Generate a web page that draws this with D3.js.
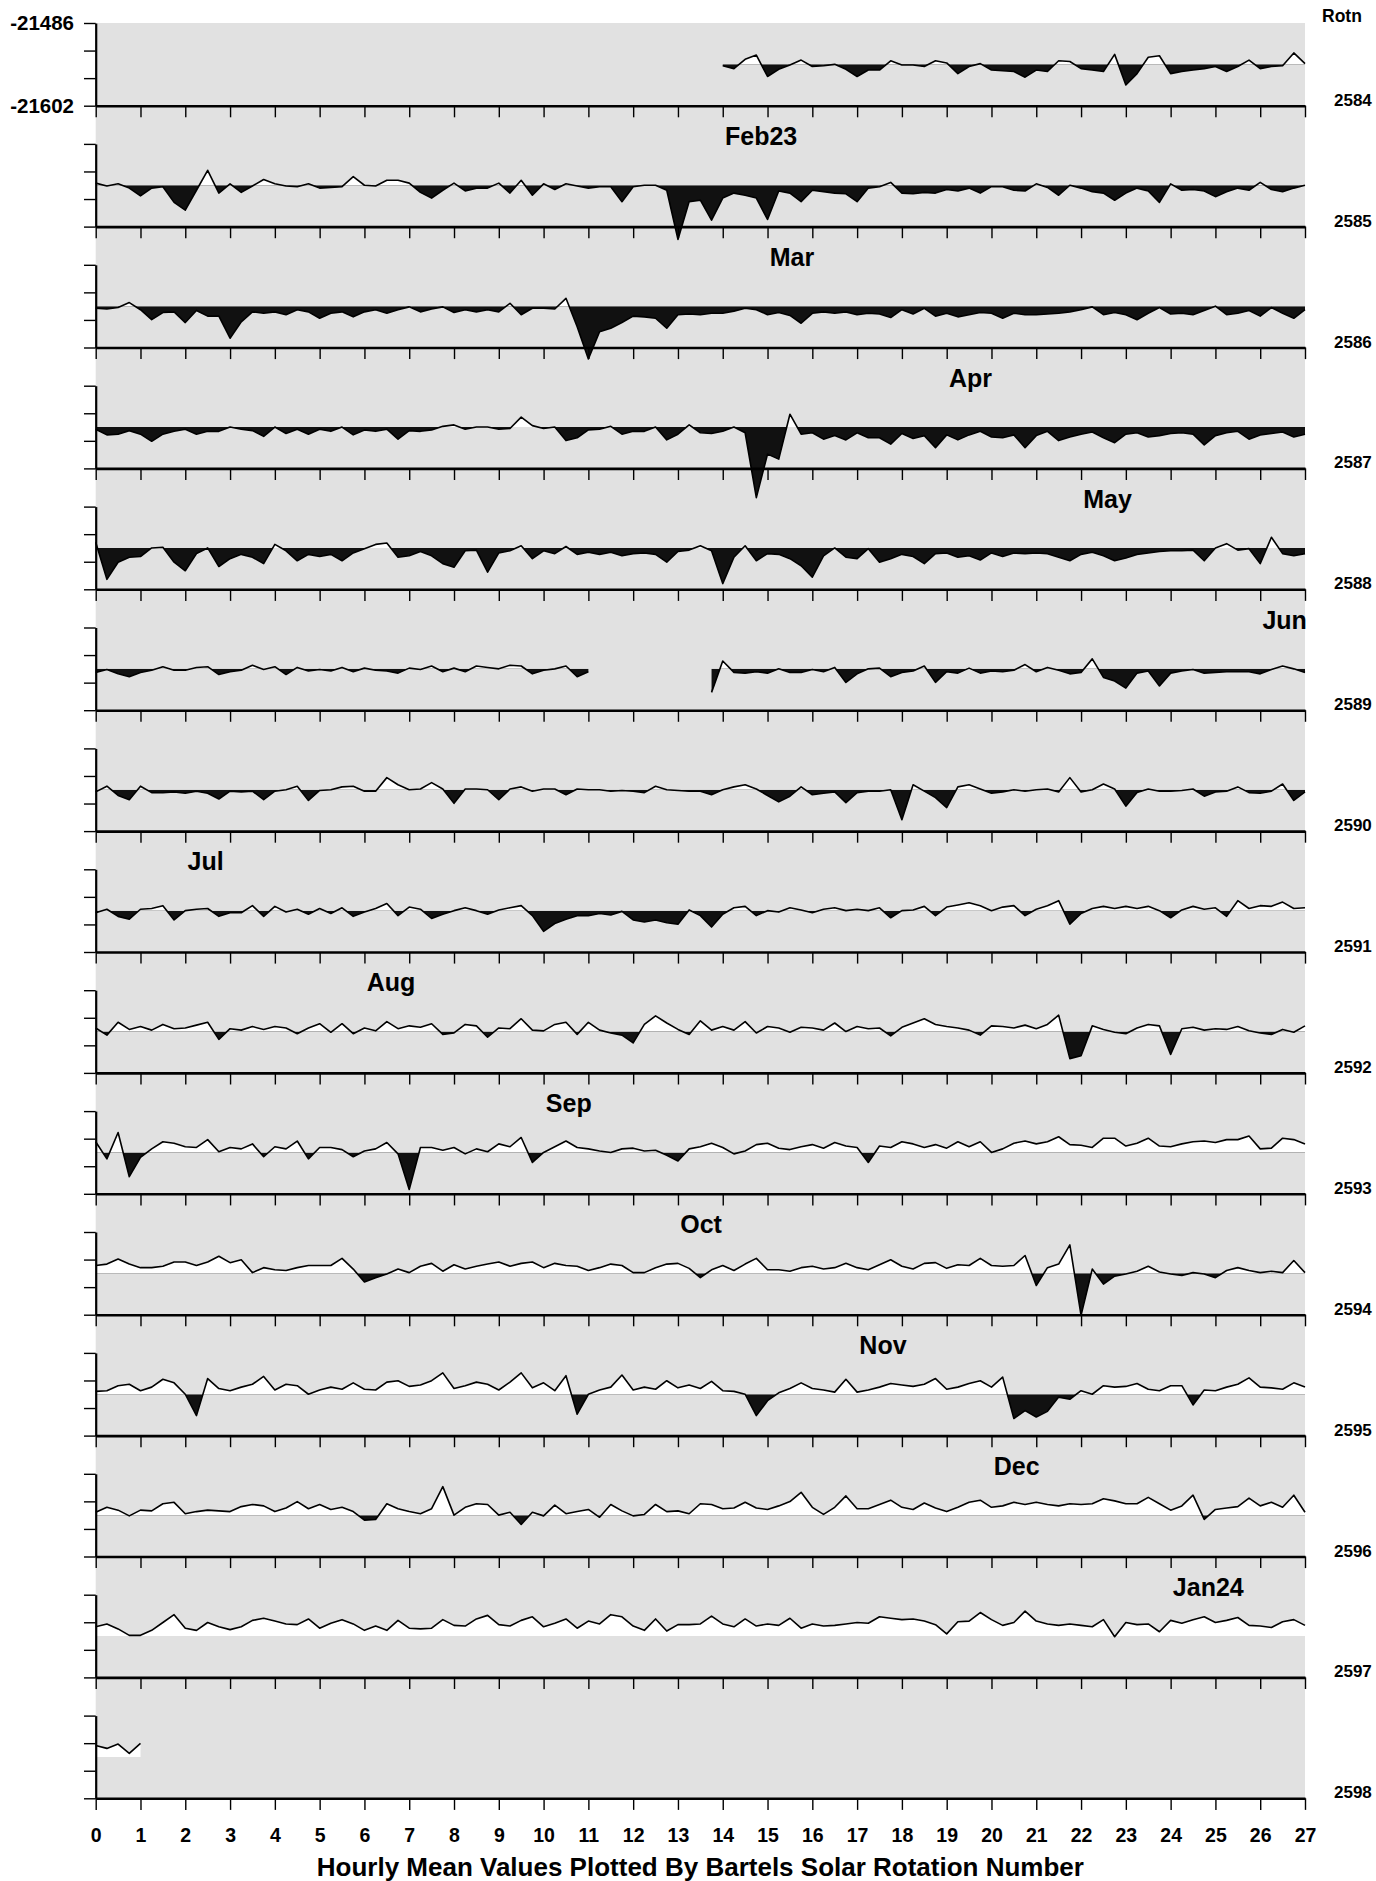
<!DOCTYPE html>
<html>
<head>
<meta charset="utf-8">
<script src="https://cdn.jsdelivr.net/npm/d3@7"></script>
<style>
  body { margin: 0; background: #fff; }
  text { font-family: "Liberation Sans", Arial, Helvetica, sans-serif; font-weight: bold; fill: #000; }
</style>
</head>
<body>
<div id="chart"></div>
<script>
// Bartels rotations, one panel each
var rotations = [2584, 2585, 2586, 2587, 2588, 2589, 2590, 2591, 2592, 2593, 2594, 2595, 2596, 2597, 2598];
var dayTicks = d3.range(0, 28);
var yTopLabel = -21486;
var yBottomLabel = -21602;
var baselineNT = -21544; // fill reference level (black below, white above)

// month labels: name, rotation panel, day of rotation where the month starts
var monthNames = ['Feb23', 'Mar', 'Apr', 'May', 'Jun', 'Jul', 'Aug', 'Sep', 'Oct', 'Nov', 'Dec', 'Jan24'];
var monthRotation = [2585, 2586, 2587, 2588, 2589, 2591, 2592, 2593, 2594, 2595, 2596, 2597];
var monthDay = [14.05, 15.05, 19.05, 22.05, 26.05, 2.05, 6.05, 10.05, 13.05, 17.05, 20.05, 24.05];

// values (nT) every 6 hours (day 0, 0.25, 0.5 ... 27), null = no data
var hourly2584 = Array(56).fill(null).concat([
  -21546,-21550,-21537,-21531,-21561,-21551,-21545,-21538,-21547,-21546,
  -21544,-21551,-21561,-21552,-21552,-21539,-21545,-21545,-21547,-21539,
  -21542,-21557,-21547,-21543,-21552,-21553,-21554,-21562,-21552,-21554,
  -21539,-21540,-21550,-21552,-21554,-21530,-21573,-21557,-21534,-21532,
  -21557,-21554,-21552,-21550,-21547,-21554,-21547,-21538,-21550,-21547,
  -21546,-21528,-21543]);
var hourly2585 = [
  -21541,-21545,-21542,-21548,-21559,-21548,-21546,-21568,-21579,-21551,
  -21523,-21555,-21542,-21554,-21545,-21536,-21542,-21545,-21546,-21542,
  -21548,-21547,-21546,-21532,-21544,-21545,-21537,-21537,-21541,-21554,
  -21562,-21551,-21541,-21552,-21548,-21548,-21541,-21555,-21537,-21558,
  -21542,-21550,-21542,-21545,-21548,-21546,-21546,-21567,-21546,-21544,
  -21544,-21551,-21620,-21567,-21565,-21593,-21562,-21555,-21558,-21562,
  -21592,-21552,-21555,-21567,-21551,-21553,-21555,-21556,-21567,-21548,
  -21546,-21540,-21555,-21556,-21554,-21555,-21550,-21552,-21548,-21555,
  -21546,-21546,-21551,-21552,-21542,-21547,-21558,-21544,-21548,-21553,
  -21555,-21565,-21555,-21548,-21552,-21568,-21542,-21551,-21550,-21552,
  -21560,-21553,-21548,-21551,-21540,-21550,-21553,-21548,-21544];
var hourly2586 = [
  -21547,-21548,-21546,-21539,-21549,-21563,-21553,-21552,-21567,-21550,
  -21558,-21558,-21589,-21566,-21552,-21554,-21552,-21556,-21549,-21552,
  -21561,-21554,-21552,-21559,-21552,-21549,-21554,-21549,-21545,-21552,
  -21548,-21545,-21553,-21549,-21552,-21549,-21552,-21540,-21556,-21547,
  -21547,-21548,-21533,-21573,-21618,-21580,-21575,-21567,-21558,-21559,
  -21561,-21575,-21556,-21555,-21556,-21554,-21554,-21551,-21547,-21549,
  -21556,-21553,-21557,-21568,-21554,-21552,-21554,-21552,-21556,-21554,
  -21555,-21560,-21549,-21555,-21547,-21558,-21554,-21559,-21556,-21553,
  -21554,-21561,-21554,-21556,-21556,-21555,-21554,-21552,-21549,-21545,
  -21556,-21553,-21556,-21563,-21554,-21546,-21555,-21554,-21556,-21550,
  -21544,-21556,-21554,-21550,-21558,-21546,-21554,-21561,-21549];
var hourly2587 = [
  -21547,-21555,-21554,-21549,-21554,-21564,-21554,-21550,-21547,-21554,
  -21550,-21550,-21544,-21547,-21549,-21557,-21544,-21553,-21547,-21554,
  -21547,-21550,-21544,-21555,-21548,-21550,-21547,-21561,-21549,-21550,
  -21548,-21543,-21541,-21547,-21544,-21544,-21547,-21546,-21530,-21542,
  -21546,-21544,-21563,-21559,-21548,-21547,-21543,-21554,-21550,-21550,
  -21544,-21562,-21554,-21541,-21552,-21553,-21550,-21544,-21552,-21643,
  -21582,-21589,-21526,-21554,-21552,-21561,-21556,-21562,-21552,-21559,
  -21559,-21568,-21553,-21560,-21556,-21573,-21555,-21562,-21555,-21550,
  -21558,-21559,-21555,-21573,-21556,-21550,-21563,-21558,-21554,-21551,
  -21559,-21566,-21554,-21552,-21558,-21556,-21553,-21552,-21554,-21569,
  -21556,-21552,-21550,-21561,-21555,-21553,-21551,-21558,-21554];
var hourly2588 = [
  -21536,-21588,-21564,-21557,-21556,-21544,-21543,-21564,-21576,-21552,
  -21544,-21570,-21559,-21553,-21557,-21566,-21539,-21548,-21562,-21553,
  -21556,-21553,-21562,-21551,-21545,-21539,-21537,-21557,-21555,-21549,
  -21555,-21566,-21571,-21548,-21547,-21578,-21551,-21548,-21541,-21559,
  -21548,-21552,-21542,-21553,-21550,-21553,-21550,-21555,-21552,-21551,
  -21553,-21564,-21549,-21547,-21541,-21548,-21594,-21557,-21541,-21562,
  -21552,-21553,-21559,-21569,-21585,-21555,-21544,-21557,-21559,-21545,
  -21564,-21559,-21553,-21556,-21566,-21552,-21551,-21557,-21555,-21561,
  -21551,-21556,-21551,-21552,-21551,-21552,-21557,-21562,-21553,-21550,
  -21555,-21562,-21558,-21553,-21551,-21549,-21548,-21548,-21547,-21562,
  -21544,-21538,-21547,-21545,-21566,-21529,-21552,-21555,-21552];
var hourly2589 = [
  -21549,-21545,-21551,-21555,-21549,-21546,-21541,-21546,-21546,-21542,
  -21541,-21552,-21548,-21546,-21539,-21545,-21541,-21552,-21542,-21547,
  -21545,-21547,-21542,-21548,-21543,-21546,-21547,-21550,-21543,-21545,
  -21540,-21548,-21543,-21548,-21540,-21542,-21544,-21539,-21540,-21551,
  -21546,-21544,-21540,-21555,-21548,null,null,null,null,null,
  null,null,null,null,null,-21577,-21533,-21549,-21550,-21548,
  -21550,-21544,-21549,-21549,-21545,-21548,-21542,-21563,-21551,-21544,
  -21543,-21555,-21549,-21547,-21540,-21563,-21548,-21550,-21543,-21550,
  -21547,-21548,-21546,-21538,-21548,-21542,-21546,-21551,-21549,-21530,
  -21556,-21561,-21571,-21550,-21547,-21568,-21550,-21547,-21545,-21550,
  -21549,-21548,-21548,-21548,-21551,-21545,-21540,-21544,-21549];
var hourly2590 = [
  -21547,-21539,-21552,-21558,-21539,-21548,-21548,-21547,-21549,-21546,
  -21549,-21557,-21546,-21547,-21546,-21558,-21546,-21544,-21539,-21559,
  -21545,-21544,-21540,-21539,-21546,-21546,-21527,-21537,-21544,-21543,
  -21534,-21543,-21563,-21543,-21543,-21544,-21558,-21543,-21540,-21546,
  -21543,-21543,-21551,-21543,-21544,-21544,-21546,-21545,-21546,-21548,
  -21539,-21544,-21545,-21546,-21546,-21551,-21544,-21540,-21537,-21543,
  -21552,-21561,-21553,-21540,-21551,-21549,-21547,-21562,-21548,-21546,
  -21546,-21544,-21586,-21537,-21546,-21555,-21569,-21540,-21537,-21543,
  -21549,-21547,-21544,-21546,-21544,-21543,-21547,-21527,-21547,-21544,
  -21536,-21543,-21567,-21548,-21543,-21546,-21546,-21545,-21543,-21553,
  -21547,-21546,-21540,-21548,-21549,-21546,-21536,-21559,-21547];
var hourly2591 = [
  -21547,-21542,-21552,-21556,-21542,-21541,-21537,-21557,-21544,-21542,
  -21541,-21552,-21547,-21547,-21537,-21552,-21538,-21546,-21542,-21549,
  -21541,-21548,-21540,-21552,-21546,-21541,-21534,-21551,-21539,-21542,
  -21555,-21549,-21544,-21540,-21544,-21549,-21543,-21540,-21537,-21551,
  -21573,-21562,-21556,-21551,-21551,-21548,-21550,-21545,-21557,-21560,
  -21557,-21561,-21563,-21543,-21551,-21567,-21549,-21540,-21538,-21551,
  -21544,-21546,-21540,-21543,-21547,-21542,-21540,-21544,-21542,-21544,
  -21540,-21554,-21544,-21543,-21538,-21551,-21539,-21536,-21533,-21537,
  -21544,-21539,-21537,-21551,-21542,-21537,-21530,-21563,-21548,-21541,
  -21538,-21541,-21538,-21541,-21538,-21544,-21554,-21543,-21538,-21542,
  -21540,-21552,-21530,-21541,-21537,-21538,-21532,-21541,-21540];
var hourly2592 = [
  -21539,-21549,-21531,-21541,-21537,-21542,-21534,-21540,-21539,-21535,
  -21531,-21555,-21540,-21542,-21537,-21541,-21537,-21539,-21547,-21539,
  -21533,-21545,-21533,-21547,-21539,-21543,-21530,-21540,-21536,-21538,
  -21533,-21548,-21546,-21534,-21536,-21552,-21539,-21540,-21526,-21542,
  -21543,-21534,-21531,-21548,-21531,-21542,-21546,-21549,-21560,-21534,
  -21522,-21532,-21541,-21548,-21529,-21542,-21537,-21542,-21530,-21546,
  -21537,-21539,-21545,-21538,-21539,-21542,-21532,-21544,-21537,-21540,
  -21539,-21550,-21538,-21532,-21526,-21534,-21537,-21539,-21542,-21549,
  -21536,-21537,-21539,-21535,-21540,-21534,-21521,-21582,-21578,-21536,
  -21541,-21545,-21547,-21539,-21534,-21536,-21576,-21540,-21538,-21542,
  -21540,-21541,-21537,-21543,-21546,-21548,-21541,-21545,-21536];
var hourly2593 = [
  -21529,-21553,-21516,-21578,-21551,-21539,-21529,-21531,-21536,-21537,
  -21526,-21543,-21537,-21539,-21532,-21550,-21536,-21539,-21528,-21553,
  -21537,-21537,-21540,-21550,-21542,-21539,-21530,-21546,-21596,-21537,
  -21537,-21541,-21537,-21546,-21539,-21543,-21532,-21536,-21523,-21558,
  -21544,-21536,-21528,-21537,-21539,-21542,-21544,-21539,-21538,-21542,
  -21541,-21548,-21556,-21539,-21536,-21531,-21537,-21546,-21542,-21533,
  -21531,-21538,-21540,-21536,-21533,-21538,-21530,-21535,-21537,-21558,
  -21535,-21537,-21529,-21532,-21537,-21533,-21538,-21529,-21536,-21529,
  -21544,-21539,-21531,-21528,-21532,-21529,-21522,-21533,-21534,-21537,
  -21524,-21524,-21535,-21531,-21524,-21535,-21536,-21532,-21529,-21528,
  -21530,-21526,-21526,-21521,-21539,-21538,-21524,-21526,-21532];
var hourly2594 = [
  -21533,-21531,-21524,-21531,-21536,-21536,-21534,-21528,-21528,-21533,
  -21528,-21520,-21529,-21525,-21543,-21536,-21539,-21540,-21536,-21533,
  -21533,-21533,-21523,-21538,-21556,-21550,-21545,-21538,-21543,-21534,
  -21530,-21541,-21532,-21538,-21534,-21531,-21528,-21534,-21530,-21528,
  -21536,-21530,-21533,-21534,-21540,-21536,-21531,-21533,-21543,-21543,
  -21536,-21531,-21530,-21537,-21550,-21539,-21533,-21540,-21531,-21523,
  -21539,-21539,-21541,-21536,-21534,-21538,-21536,-21530,-21536,-21539,
  -21532,-21525,-21534,-21538,-21530,-21529,-21537,-21532,-21533,-21523,
  -21533,-21534,-21533,-21519,-21561,-21536,-21531,-21504,-21603,-21538,
  -21559,-21548,-21545,-21541,-21534,-21542,-21545,-21547,-21543,-21545,
  -21550,-21540,-21536,-21540,-21543,-21541,-21543,-21526,-21543];
var hourly2595 = [
  -21540,-21539,-21532,-21530,-21539,-21534,-21523,-21528,-21544,-21574,
  -21522,-21536,-21539,-21534,-21530,-21519,-21538,-21530,-21532,-21544,
  -21538,-21534,-21537,-21528,-21537,-21538,-21527,-21525,-21533,-21531,
  -21525,-21514,-21536,-21532,-21527,-21530,-21538,-21527,-21514,-21535,
  -21528,-21539,-21518,-21572,-21544,-21538,-21534,-21517,-21538,-21534,
  -21537,-21525,-21535,-21531,-21536,-21526,-21539,-21540,-21544,-21574,
  -21553,-21542,-21536,-21528,-21536,-21538,-21541,-21523,-21541,-21538,
  -21534,-21529,-21531,-21533,-21530,-21522,-21537,-21534,-21529,-21525,
  -21534,-21520,-21578,-21567,-21576,-21568,-21548,-21551,-21539,-21544,
  -21532,-21534,-21533,-21529,-21537,-21539,-21532,-21532,-21559,-21538,
  -21539,-21534,-21530,-21521,-21534,-21535,-21537,-21528,-21534];
var hourly2596 = [
  -21540,-21533,-21537,-21545,-21537,-21538,-21528,-21526,-21542,-21539,
  -21537,-21538,-21539,-21532,-21529,-21531,-21539,-21534,-21525,-21535,
  -21529,-21536,-21533,-21539,-21551,-21550,-21528,-21535,-21539,-21542,
  -21535,-21504,-21544,-21533,-21528,-21529,-21544,-21540,-21557,-21540,
  -21545,-21530,-21542,-21539,-21536,-21547,-21529,-21538,-21545,-21543,
  -21529,-21539,-21538,-21542,-21528,-21529,-21535,-21534,-21526,-21534,
  -21536,-21531,-21525,-21512,-21533,-21543,-21533,-21517,-21535,-21535,
  -21529,-21523,-21533,-21536,-21527,-21534,-21539,-21533,-21526,-21523,
  -21533,-21531,-21526,-21529,-21526,-21529,-21531,-21528,-21529,-21528,
  -21521,-21524,-21528,-21528,-21519,-21528,-21537,-21531,-21516,-21550,
  -21536,-21534,-21532,-21520,-21531,-21526,-21533,-21516,-21540];
var hourly2597 = [
  -21531,-21527,-21534,-21543,-21543,-21536,-21525,-21514,-21533,-21536,
  -21525,-21531,-21535,-21531,-21522,-21519,-21523,-21527,-21528,-21520,
  -21533,-21526,-21521,-21527,-21536,-21530,-21536,-21522,-21533,-21534,
  -21533,-21521,-21529,-21530,-21520,-21515,-21528,-21530,-21522,-21517,
  -21531,-21526,-21520,-21533,-21523,-21527,-21514,-21517,-21530,-21536,
  -21520,-21537,-21528,-21528,-21527,-21516,-21527,-21531,-21520,-21530,
  -21527,-21529,-21519,-21533,-21527,-21530,-21529,-21527,-21525,-21526,
  -21517,-21519,-21521,-21520,-21523,-21528,-21541,-21524,-21523,-21511,
  -21521,-21529,-21525,-21509,-21523,-21527,-21529,-21527,-21529,-21531,
  -21521,-21545,-21525,-21528,-21527,-21538,-21522,-21526,-21521,-21517,
  -21525,-21522,-21518,-21529,-21530,-21532,-21524,-21521,-21529];
var hourly2598 = [-21528, -21532, -21526, -21539, -21525];

var series = [hourly2584, hourly2585, hourly2586, hourly2587, hourly2588, hourly2589, hourly2590,
  hourly2591, hourly2592, hourly2593, hourly2594, hourly2595, hourly2596, hourly2597, hourly2598];

var W = 1376, H = 1881;
var plotLeft = 95.7, plotRight = 1305;
var firstBottom = 105.7, panelStep = 120.9, axisHeight = 82.7;
var stepDays = 0.25; // 6-hourly samples
var lastBottom = firstBottom + (rotations.length - 1) * panelStep;

var svg = d3.select('#chart')
  .append('svg')
    .attr('width', W)
    .attr('height', H);
var defs = svg.append('defs');

var x = d3.scaleLinear()
  .domain([0, 27])
  .range([plotLeft, plotRight]);

// grey plotting background, one block for all panels
svg.append('rect')
  .attr('x', plotLeft)
  .attr('y', firstBottom - axisHeight)
  .attr('width', plotRight - plotLeft)
  .attr('height', lastBottom - (firstBottom - axisHeight))
  .attr('fill', '#e1e1e1');

var yFor = function(k) {
  var bottom = firstBottom + k * panelStep;
  return d3.scaleLinear()
    .domain([yBottomLabel, yTopLabel])
    .range([bottom, bottom - axisHeight]);
};

// month labels
monthNames.forEach(function(name, j) {
  var k = rotations.indexOf(monthRotation[j]);
  var bottom = firstBottom + k * panelStep;
  svg.append('text')
    .attr('x', x(monthDay[j]))
    .attr('y', bottom - axisHeight + 1)
    .attr('font-size', 25)
    .text(name);
});

// data panels
rotations.forEach(function(rot, k) {
  var y = yFor(k);
  var base = y(baselineNT);
  var vals = series[k];

  defs.append('clipPath').attr('id', 'above' + k)
    .append('rect')
      .attr('x', plotLeft).attr('y', base - 300)
      .attr('width', plotRight - plotLeft).attr('height', 300);
  defs.append('clipPath').attr('id', 'below' + k)
    .append('rect')
      .attr('x', plotLeft).attr('y', base)
      .attr('width', plotRight - plotLeft).attr('height', 300);

  var area = d3.area()
    .defined(function(d) { return d != null; })
    .x(function(d, i) { return x(i * stepDays); })
    .y0(base)
    .y1(function(d) { return y(d); });

  var line = d3.line()
    .defined(function(d) { return d != null; })
    .x(function(d, i) { return x(i * stepDays); })
    .y(function(d) { return y(d); });

  var g = svg.append('g').attr('class', 'panel');

  g.append('path')
    .attr('d', area(vals))
    .attr('fill', '#ffffff')
    .attr('clip-path', 'url(#above' + k + ')');

  g.append('path')
    .attr('d', area(vals))
    .attr('fill', '#111111')
    .attr('clip-path', 'url(#below' + k + ')');

  g.append('path')
    .attr('d', line(vals))
    .attr('fill', 'none')
    .attr('stroke', '#000')
    .attr('stroke-width', 1.6)
    .attr('stroke-linejoin', 'round');
});

// axes
rotations.forEach(function(rot, k) {
  var y = yFor(k);
  var bottom = firstBottom + k * panelStep;
  var isLast = k == rotations.length - 1;

  var xAxis = d3.axisBottom(x)
    .tickValues(dayTicks)
    .tickSize(11.6)
    .tickSizeOuter(0)
    .tickPadding(18)
    .tickFormat(isLast ? d3.format('d') : '');

  var gx = svg.append('g')
    .attr('transform', 'translate(0,' + bottom + ')')
    .call(xAxis);
  gx.select('.domain').attr('stroke-width', 2.6);
  gx.selectAll('.tick line').attr('stroke-width', 1.4);
  gx.selectAll('.tick text')
    .attr('font-size', 19.5)
    .attr('font-family', '"Liberation Sans", Arial, sans-serif')
    .attr('font-weight', 'bold');

  var step = (yTopLabel - yBottomLabel) / 3;
  var yAxis = d3.axisLeft(y)
    .tickValues([yBottomLabel, yBottomLabel + step, yBottomLabel + 2 * step, yTopLabel])
    .tickSize(11.7)
    .tickSizeOuter(0)
    .tickPadding(10)
    .tickFormat(function(d) {
      if (k != 0) return '';
      return (d == yTopLabel || d == yBottomLabel) ? String(d) : '';
    });

  var gy = svg.append('g')
    .attr('transform', 'translate(' + plotLeft + ',0)')
    .call(yAxis);
  gy.select('.domain').attr('stroke-width', 2.2);
  gy.selectAll('.tick line').attr('stroke-width', 1.4);
  gy.selectAll('.tick text')
    .attr('font-size', 20.5)
    .attr('font-family', '"Liberation Sans", Arial, sans-serif')
    .attr('font-weight', 'bold');

  // rotation number on the right
  svg.append('text')
    .attr('x', 1334)
    .attr('y', bottom)
    .attr('font-size', 17)
    .text(rot);
});

svg.append('text')
  .attr('x', 1322)
  .attr('y', 22)
  .attr('font-size', 17.5)
  .text('Rotn');

svg.append('text')
  .attr('x', (plotLeft + plotRight) / 2)
  .attr('y', 1876)
  .attr('text-anchor', 'middle')
  .attr('font-size', 26)
  .text('Hourly Mean Values Plotted By Bartels Solar Rotation Number');
</script>
</body>
</html>
